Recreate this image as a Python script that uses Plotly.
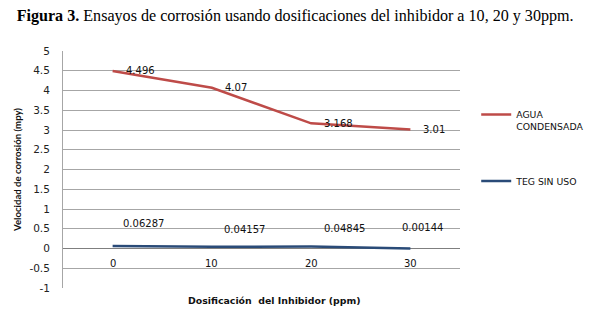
import plotly.graph_objects as go

categories = ["0", "10", "20", "30"]
agua_condensada = [4.496, 4.07, 3.168, 3.01]
teg_sin_uso = [0.06287, 0.04157, 0.04845, 0.00144]
agua_labels = ["4.496", "4.07", "3.168", "3.01"]
teg_labels = ["0.06287", "0.04157", "0.04845", "0.00144"]
y_ticks = [-1, -0.5, 0, 0.5, 1, 1.5, 2, 2.5, 3, 3.5, 4, 4.5, 5]

# label placement offsets (pixels), style only
teg_dx = [8, 10, 11, -10]
teg_dy = [23, 17, 18, 21]

RED = "#BE4B48"
BLUE = "#2A4B78"
SANS = "Verdana, DejaVu Sans, sans-serif"

fig = go.Figure()
fig.add_trace(go.Scatter(x=categories, y=agua_condensada, mode="lines",
                         name="AGUA<br>CONDENSADA",
                         line=dict(color=RED, width=2.5), legend="legend"))
fig.add_trace(go.Scatter(x=categories, y=teg_sin_uso, mode="lines",
                         name="TEG SIN USO",
                         line=dict(color=BLUE, width=2.5), legend="legend2"))

ann = []
for i, (v, t) in enumerate(zip(agua_condensada, agua_labels)):
    ann.append(dict(x=i, y=v, text=t, showarrow=False, xanchor="left", yanchor="middle",
                    xshift=11, font=dict(size=10, color="#111", family=SANS)))
for i, (v, t) in enumerate(zip(teg_sin_uso, teg_labels)):
    ann.append(dict(x=i, y=v, text=t, showarrow=False, xanchor="left", yanchor="middle",
                    xshift=teg_dx[i], yshift=teg_dy[i], font=dict(size=10, color="#111", family=SANS)))
for i, c in enumerate(categories):
    ann.append(dict(x=i, y=0, text=c, showarrow=False, xanchor="center", yanchor="middle",
                    yshift=-15, font=dict(size=10, color="#111", family=SANS)))
ann.append(dict(xref="paper", yref="paper", x=0.534, y=-12 / 237, yanchor="middle",
                text="<b>Dosificación  del Inhibidor (ppm)</b>", showarrow=False,
                font=dict(size=9.4, color="#111", family=SANS)))

fig.update_layout(
    width=586, height=304,
    margin=dict(l=55, r=134, t=43, b=24, autoexpand=False),
    paper_bgcolor="white", plot_bgcolor="white",
    title=dict(text="<b>Figura 3.</b> Ensayos de corrosión usando dosificaciones del inhibidor a 10, 20 y 30ppm.",
               x=0.49, xref="container", xanchor="center", y=1 - 2 / 304, yref="container",
               yanchor="top", pad=dict(t=0, b=0),
               font=dict(family="Liberation Serif, Times New Roman, serif", size=16.1, color="#000")),
    xaxis=dict(type="category", range=[-0.5, 3.5], showticklabels=False, showgrid=False,
               zeroline=False, showline=False, ticks=""),
    yaxis=dict(range=[-1, 5], tickvals=y_ticks, ticktext=[f"{v:g}" for v in y_ticks],
               showgrid=True, gridcolor="#A6A6A6", gridwidth=1,
               zeroline=True, zerolinecolor="#7F7F7F", zerolinewidth=1,
               showline=True, linecolor="#A6A6A6", linewidth=1,
               ticks="", ticklabelstandoff=10,
               tickfont=dict(size=10.5, color="#222", family=SANS),
               title=dict(text="<b>Velocidad de corrosión (mpy)</b>", standoff=6,
                          font=dict(size=9.6, color="#111", family="Lato, Open Sans, sans-serif"))),
    legend=dict(xref="container", yref="container", x=0.799, y=1 - 113 / 304,
                xanchor="left", yanchor="middle", valign="top",
                bgcolor="rgba(0,0,0,0)", itemwidth=30,
                font=dict(size=9.3, color="#111", family=SANS)),
    legend2=dict(xref="container", yref="container", x=0.799, y=1 - 173 / 304,
                 xanchor="left", yanchor="middle",
                 bgcolor="rgba(0,0,0,0)", itemwidth=30,
                 font=dict(size=9.3, color="#111", family=SANS)),
    annotations=ann,
    showlegend=True,
)

fig.write_html("out.html")
